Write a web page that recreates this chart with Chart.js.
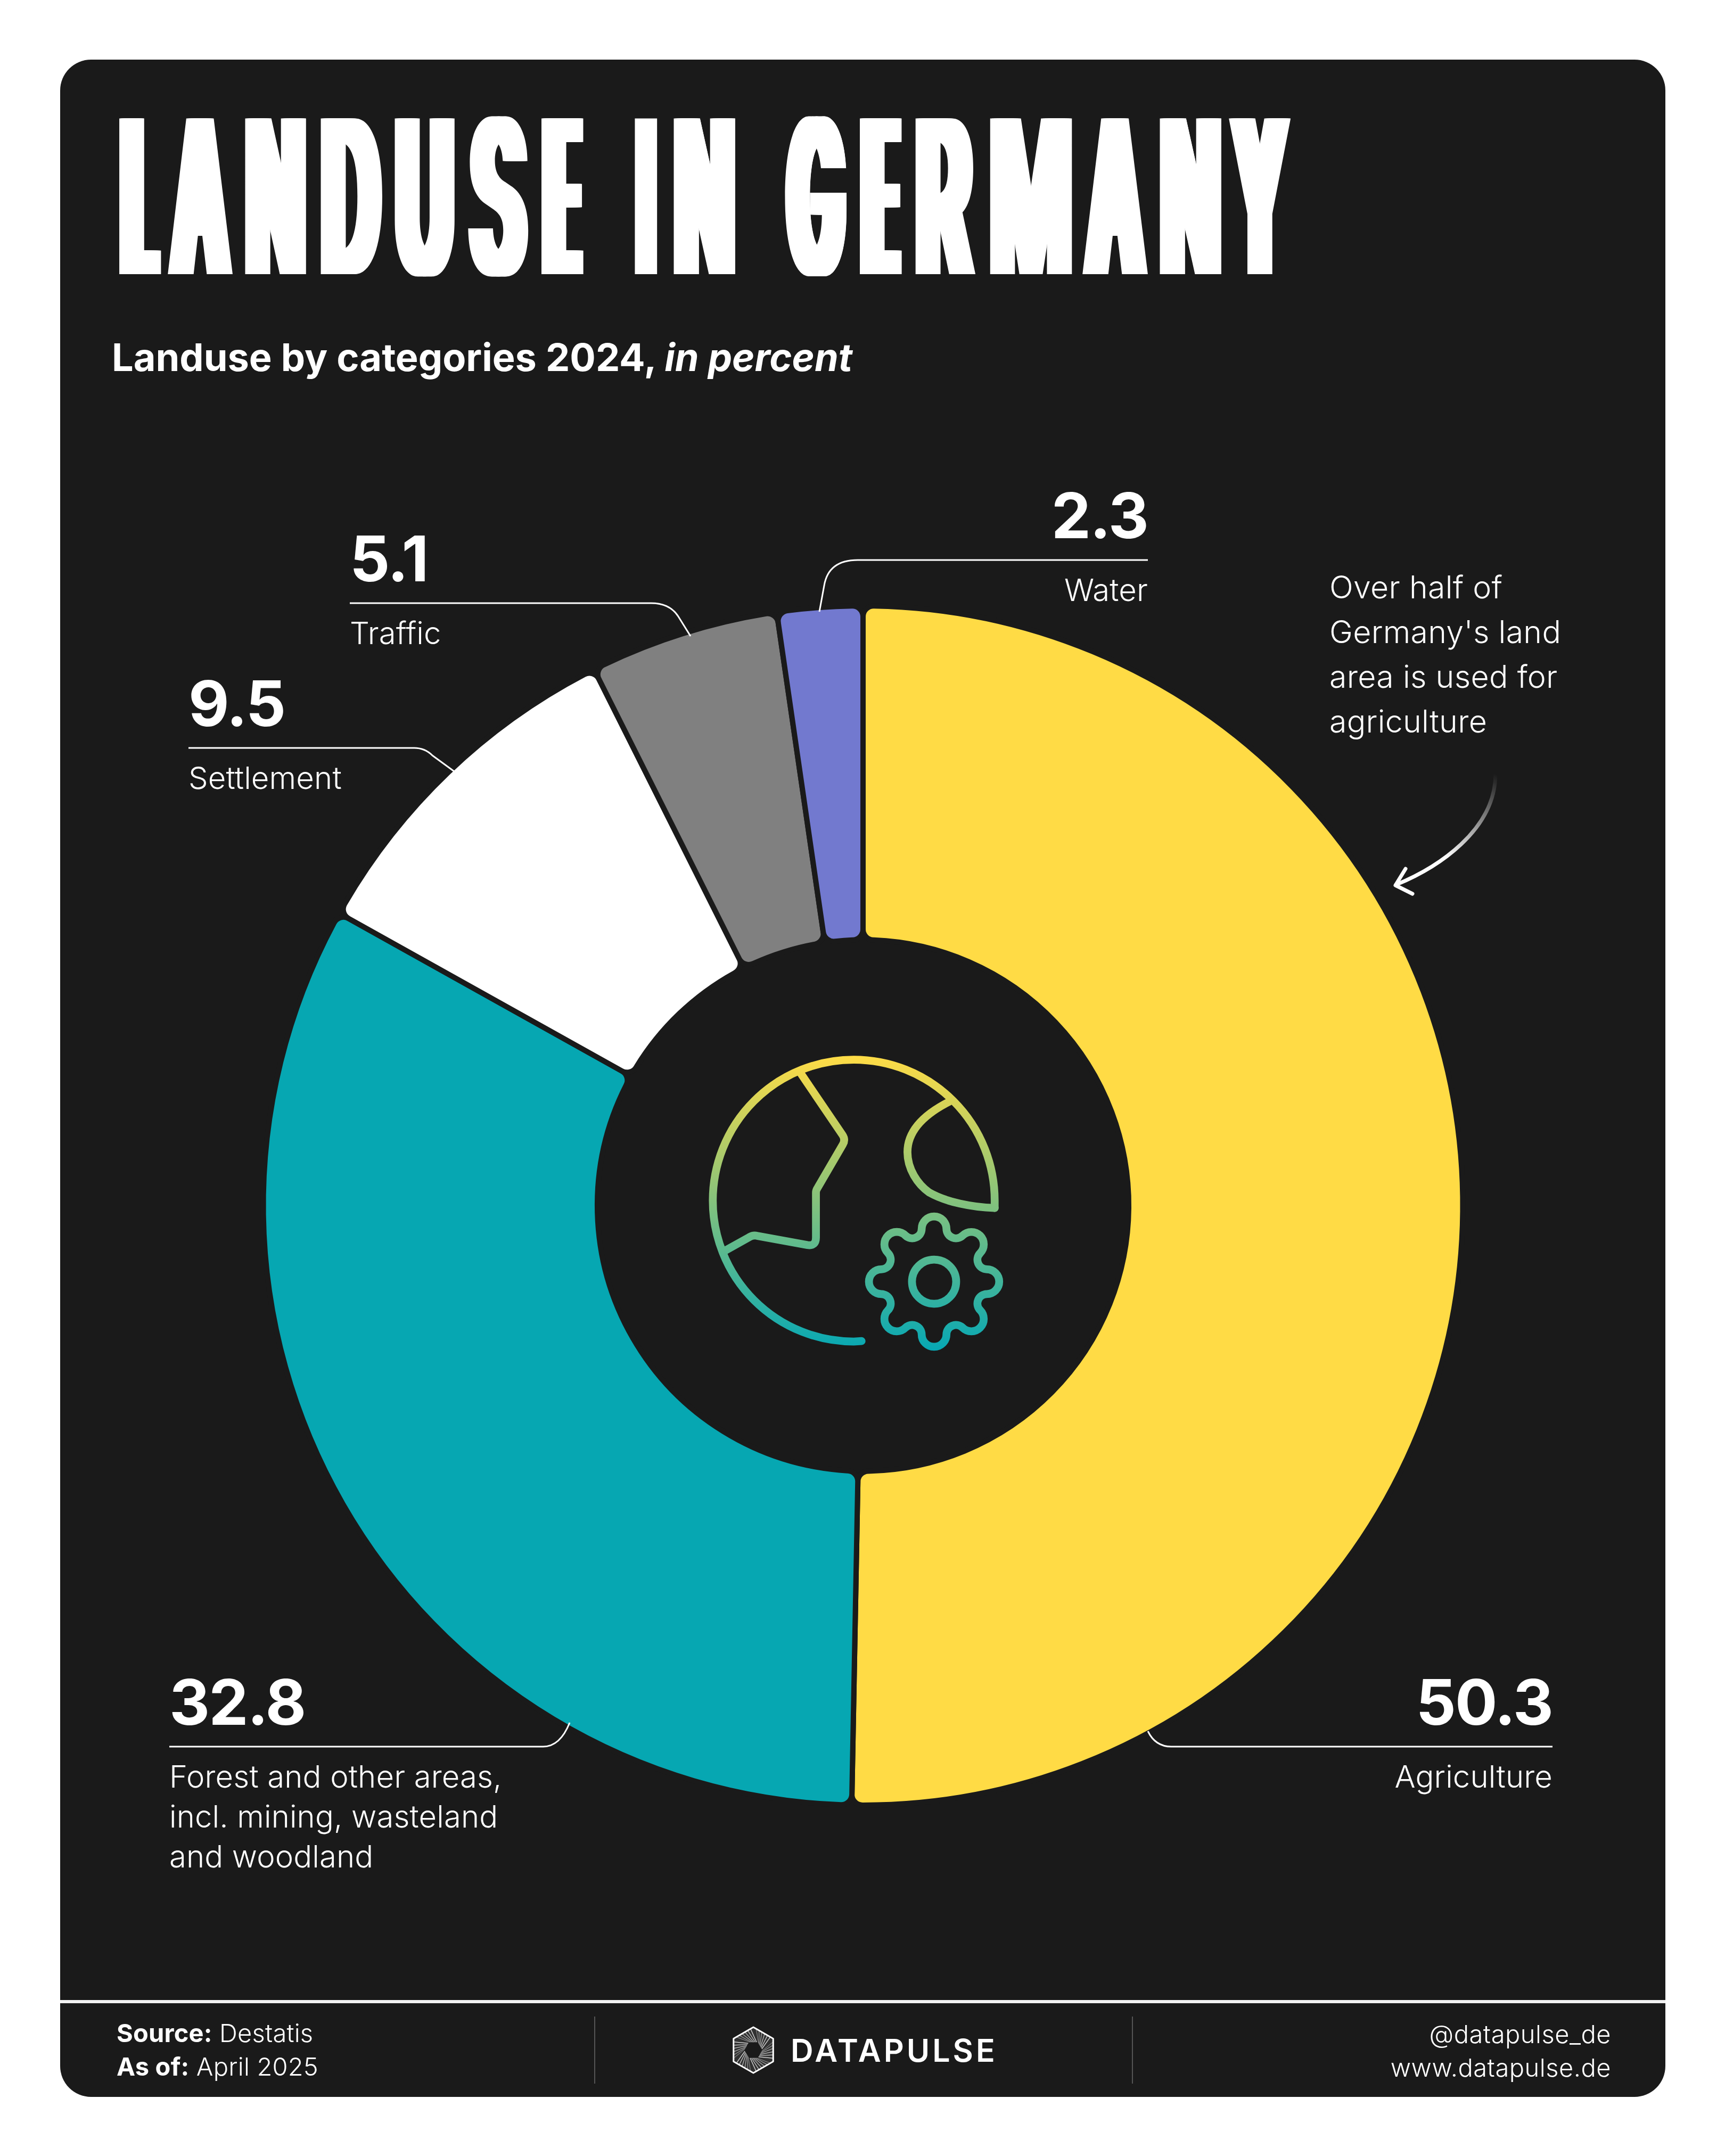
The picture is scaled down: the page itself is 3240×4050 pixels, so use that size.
<!DOCTYPE html>
<html>
<head>
<meta charset="utf-8">
<title>Landuse in Germany</title>
<script src="https://cdn.jsdelivr.net/npm/chart.js@4"></script>
<style>
html, body { margin: 0; padding: 0; background: #fff; }
#page { position: relative; width: 3240px; height: 4050px; overflow: hidden; background: #fff; }
#card { position: absolute; left: 113px; top: 112px; width: 3015px; height: 3827px; background: #1a1a1a; border-radius: 58px; }
#footerLine { position: absolute; left: 113px; top: 3757px; width: 3015px; height: 6px; background: #f2f2f2; }
canvas, svg { position: absolute; left: 0; top: 0; }
.t { position: absolute; white-space: pre; color: #fff; font-family: Inter, sans-serif; }
#title span { position: absolute; left: 0; top: 0; transform-origin: 0 0; }
</style>
</head>
<body>
<div id="page">
  <div id="card"></div>
  <div id="footerLine"></div>
  <canvas id="donut" width="3240" height="4050"></canvas>
  <svg id="overlay" width="3240" height="4050" viewBox="0 0 3240 4050" fill="none">
    <defs>
      <linearGradient id="iconGrad" gradientUnits="userSpaceOnUse" x1="0" y1="75" x2="0" y2="1313">
        <stop offset="0" stop-color="#ffdc46"/>
        <stop offset="1" stop-color="#07a8b4"/>
      </linearGradient>
      <linearGradient id="arrowGrad" gradientUnits="userSpaceOnUse" x1="2812" y1="1455" x2="2700" y2="1640">
        <stop offset="0" stop-color="#fff" stop-opacity="0"/>
        <stop offset="0.85" stop-color="#fff"/>
        <stop offset="1" stop-color="#fff"/>
      </linearGradient>
    </defs>
    <g id="leaders" stroke="#fff" stroke-width="3"></g>
    <path d="M2809 1455 C2808 1560 2700 1630 2622 1662" stroke="url(#arrowGrad)" stroke-width="7" stroke-linecap="round"/>
    <path d="M2640 1632 L2621 1663 L2653 1679" stroke="#fff" stroke-width="7" stroke-linecap="round" stroke-linejoin="round"/>
    <g id="icon" transform="translate(1250 1950) scale(0.4464)" stroke="url(#iconGrad)" stroke-width="33" stroke-linecap="round" stroke-linejoin="round"></g>
    <g id="logo" stroke-linejoin="round"></g>
    <line x1="1117" y1="3788" x2="1117" y2="3914" stroke="#555" stroke-width="2"/>
    <line x1="2127" y1="3788" x2="2127" y2="3914" stroke="#555" stroke-width="2"/>
  </svg>
  <div id="texts"></div>
</div>

<script>
// ==========================================================
// DATA
// ==========================================================

const categories = ["Agriculture", "Forest and other areas,\nincl. mining, wasteland\nand woodland", "Settlement", "Traffic", "Water"];
const shares = [50.3, 32.8, 9.5, 5.1, 2.3];
const shareLabels = ["50.3", "32.8", "9.5", "5.1", "2.3"];
const sliceColors = ["#ffdb45", "#06a7b2", "#ffffff", "#808080", "#7279cf"];

const titleText = "LANDUSE IN GERMANY";
const subtitleBold = "Landuse by categories 2024,";
const subtitleItalic = "in percent";
const noteLines = ["Over half of", "Germany's land", "area is used for", "agriculture"];
const footerLeft = [["Source:", "Destatis"], ["As of:", "April 2025"]];
const footerRight = ["@datapulse_de", "www.datapulse.de"];
const brandName = "DATAPULSE";


// ==========================================================
// TEXT HELPER - places a line by its baseline
// ==========================================================

const measure = document.createElement("canvas").getContext("2d");
const textBox = document.getElementById("texts");

function addText(html, x, baseline, size, weight, opts)
{
    opts = opts || {};
    measure.font = weight + " " + size + "px Inter";
    const m = measure.measureText("Hg");
    const asc = m.fontBoundingBoxAscent;
    const desc = m.fontBoundingBoxDescent;

    const el = document.createElement("div");
    el.className = "t";
    el.innerHTML = html;
    el.style.fontSize = size + "px";
    el.style.fontWeight = weight;
    el.style.lineHeight = (asc + desc) + "px";
    el.style.top = (baseline - asc) + "px";
    if(opts.spacing) el.style.letterSpacing = opts.spacing + "px";
    if(opts.align === "right")
        el.style.right = (3240 - x) + "px";
    else
        el.style.left = x + "px";
    textBox.appendChild(el);
    return el;
}


// ==========================================================
// HEADER
// ==========================================================

// no condensed poster font here: every letter is squeezed to its own
// left/right edge and its stems are widened sideways with shadows
const titleEdges = [
    [223, 303], [314, 439], [459, 575], [601, 718], [740, 855], [877, 993], [1016, 1097], null,
    [1189, 1239], [1264, 1381], null,
    [1474, 1591], [1614, 1695], [1718, 1834], [1858, 2015], [2032, 2158], [2177, 2294], [2307, 2426]
];
const titleStem = 46;
const fontStem = 50;

function buildTitle()
{
    const titleEl = addText("", 0, 515, 402, 600);
    titleEl.id = "title";
    measure.font = "600 402px Inter";

    titleText.split("").forEach((ch, i) =>
    {
        if(ch === " ")
        {
            titleEl.appendChild(document.createTextNode(" "));
            return;
        }
        const [x0, x1] = titleEdges[i];
        const m = measure.measureText(ch);
        const inkW = m.actualBoundingBoxRight + m.actualBoundingBoxLeft;
        const W = x1 - x0;

        let sx = W / inkW;
        let dx = 0;
        if(inkW > fontStem * 1.5)
        {
            sx = (W - titleStem) / (inkW - fontStem);
            dx = Math.max(0, (titleStem / sx - fontStem) / 2);
        }

        let stems = [];
        for(let s = -dx; s < dx; s += 8)
            stems.push(s.toFixed(1) + "px 0 0 #fff");
        if(dx > 0) stems.push(dx.toFixed(1) + "px 0 0 #fff");

        const span = document.createElement("span");
        span.textContent = ch;
        if(stems.length) span.style.textShadow = stems.join(",");
        span.style.transform = "translateX(" + (x0 + (dx + m.actualBoundingBoxLeft) * sx) + "px) scaleX(" + sx + ")";
        titleEl.appendChild(span);
    });
}
buildTitle();

addText(subtitleBold + " <i>" + subtitleItalic + "</i>", 210, 697, 72, 700);


// ==========================================================
// SLICE LABELS AND LEADERS
// ==========================================================

const labelSpots = [
    { x: 2916, rule: 3281, align: "right", path: "M2916 3281 H2200 Q2170 3281 2156 3252" },
    { x: 318,  rule: 3281, align: "left",  path: "M318 3281 H1020 Q1052 3281 1070 3236" },
    { x: 354,  rule: 1405, align: "left",  path: "M354 1405 H778 Q798 1405 812 1419 L853 1449" },
    { x: 657,  rule: 1133, align: "left",  path: "M657 1133 H1223 Q1258 1133 1274 1158 L1297 1195" },
    { x: 2156, rule: 1052, align: "right", path: "M2156 1052 H1611 Q1556 1052 1548 1100 L1539 1149" }
];

const leaders = document.getElementById("leaders");
labelSpots.forEach((spot, i) =>
{
    addText(shareLabels[i], spot.x, spot.rule - 41, 118, 700, { align: spot.align, spacing: -2 });
    categories[i].split("\n").forEach((line, n) =>
    {
        addText(line, spot.x, spot.rule + 77 + n * 75, 58, 300, { align: spot.align, spacing: 0.15 });
    });
    const p = document.createElementNS("http://www.w3.org/2000/svg", "path");
    p.setAttribute("d", spot.path);
    leaders.appendChild(p);
});

noteLines.forEach((line, n) =>
{
    addText(line, 2497, 1124 + n * 84, 59, 300, { spacing: 0.3 });
});


// ==========================================================
// FOOTER
// ==========================================================

footerLeft.forEach((row, n) =>
{
    addText('<span style="font-weight:700">' + row[0] + "</span> " + row[1], 219, 3836 + n * 63, 47, 300, { spacing: 0.2 });
});
footerRight.forEach((line, n) =>
{
    addText(line, 3026, 3838 + n * 63, 47, 300, { align: "right", spacing: 0.5 });
});
addText(brandName, 1485, 3873, 59, 600, { spacing: 5 });


// ==========================================================
// ICONS
// ==========================================================

function svgPath(parent, d)
{
    const p = document.createElementNS("http://www.w3.org/2000/svg", "path");
    p.setAttribute("d", d);
    parent.appendChild(p);
    return p;
}

const icon = document.getElementById("icon");
svgPath(icon, "M825 1275 L792 1277 A593 593 0 1 1 1385 684 V715");
svgPath(icon, "M570 150 L745 408 Q758 428 746 448 L640 630 Q633 640 633 650 V840 Q633 876 597 871 L385 832 Q368 828 352 838 L250 895");
svgPath(icon, "M1195 267 C1080 325 1018 395 1018 480 C1018 550 1060 615 1110 650 C1180 690 1290 712 1385 715");

// gear: lobes and valleys joined as tangent arcs
function gearPath(cx, cy)
{
    const lobeR = 52, lobeC = 221, valleyR = 40, valleyC = 241;
    const share = lobeR / (lobeR + valleyR);
    let d = "";
    for(let k = 0; k < 8; k++)
    {
        const a = k * Math.PI / 4 - Math.PI / 2;
        const b = a + Math.PI / 8;
        const c = a + Math.PI / 4;
        const lobe1 = [cx + lobeC * Math.cos(a), cy + lobeC * Math.sin(a)];
        const valley = [cx + valleyC * Math.cos(b), cy + valleyC * Math.sin(b)];
        const lobe2 = [cx + lobeC * Math.cos(c), cy + lobeC * Math.sin(c)];
        const touch1 = [lobe1[0] + (valley[0] - lobe1[0]) * share, lobe1[1] + (valley[1] - lobe1[1]) * share];
        const touch2 = [lobe2[0] + (valley[0] - lobe2[0]) * share, lobe2[1] + (valley[1] - lobe2[1]) * share];
        if(k === 0)
        {
            const prevB = a - Math.PI / 8;
            const prevV = [cx + valleyC * Math.cos(prevB), cy + valleyC * Math.sin(prevB)];
            d += "M" + (lobe1[0] + (prevV[0] - lobe1[0]) * share) + " " + (lobe1[1] + (prevV[1] - lobe1[1]) * share);
        }
        d += " A" + lobeR + " " + lobeR + " 0 0 1 " + touch1[0] + " " + touch1[1];
        d += " A" + valleyR + " " + valleyR + " 0 0 0 " + touch2[0] + " " + touch2[1];
    }
    return d + " Z";
}
svgPath(icon, gearPath(1130, 1025));
svgPath(icon, "M1037 1025 A93 93 0 1 1 1223 1025 A93 93 0 1 1 1037 1025 Z");

// brand mark: shutter blades made of thin lines inside a hexagon
function drawLogo(cx, cy, R, r)
{
    const logo = document.getElementById("logo");
    const pt = (rad, deg) => [cx + rad * Math.cos(deg * Math.PI / 180), cy + rad * Math.sin(deg * Math.PI / 180)];
    const mix = (p, q, t) => [p[0] + (q[0] - p[0]) * t, p[1] + (q[1] - p[1]) * t];
    let hex = "";
    for(let i = 0; i < 6; i++)
    {
        const out1 = pt(R, -90 + i * 60);
        const out2 = pt(R, -30 + i * 60);
        const in1 = pt(r, -60 + i * 60);
        const in2 = pt(r, i * 60);
        const blade = svgPath(logo, "M" + out1 + " L" + out2 + " L" + in2 + " L" + in1 + " Z");
        blade.setAttribute("fill", "#333");
        for(let t = 1; t < 7; t++)
        {
            const a = mix(out1, out2, t / 7);
            const b = mix(in1, in2, t / 7);
            const line = svgPath(logo, "M" + a + " L" + b);
            line.setAttribute("stroke", "#fff");
            line.setAttribute("stroke-opacity", 0.3 + t * 0.1);
            line.setAttribute("stroke-width", "1.2");
        }
        hex += (i ? " L" : "M") + out1;
    }
    const outline = svgPath(logo, hex + " Z");
    outline.setAttribute("stroke", "#fff");
    outline.setAttribute("stroke-width", "3");
}
drawLogo(1415, 3851, 43, 17);


// ==========================================================
// DOUGHNUT
// ==========================================================

// slice gaps are a card-coloured border: spacing in Chart.js scales with
// the slice angle, the gaps here are the same width everywhere
new Chart(document.getElementById("donut"),
{
    type: "doughnut",
    data: {
        labels: categories,
        datasets: [{
            data: shares,
            backgroundColor: sliceColors,
            borderColor: "#1a1a1a",
            borderWidth: 10,
            borderRadius: 20
        }]
    },
    options: {
        responsive: false,
        devicePixelRatio: 1,
        animation: false,
        cutout: "44.3%",
        layout: { padding: { left: 489, right: 487, top: 1133, bottom: 654 } },
        plugins: { legend: { display: false }, tooltip: { enabled: false } }
    }
});
</script>
</body>
</html>
